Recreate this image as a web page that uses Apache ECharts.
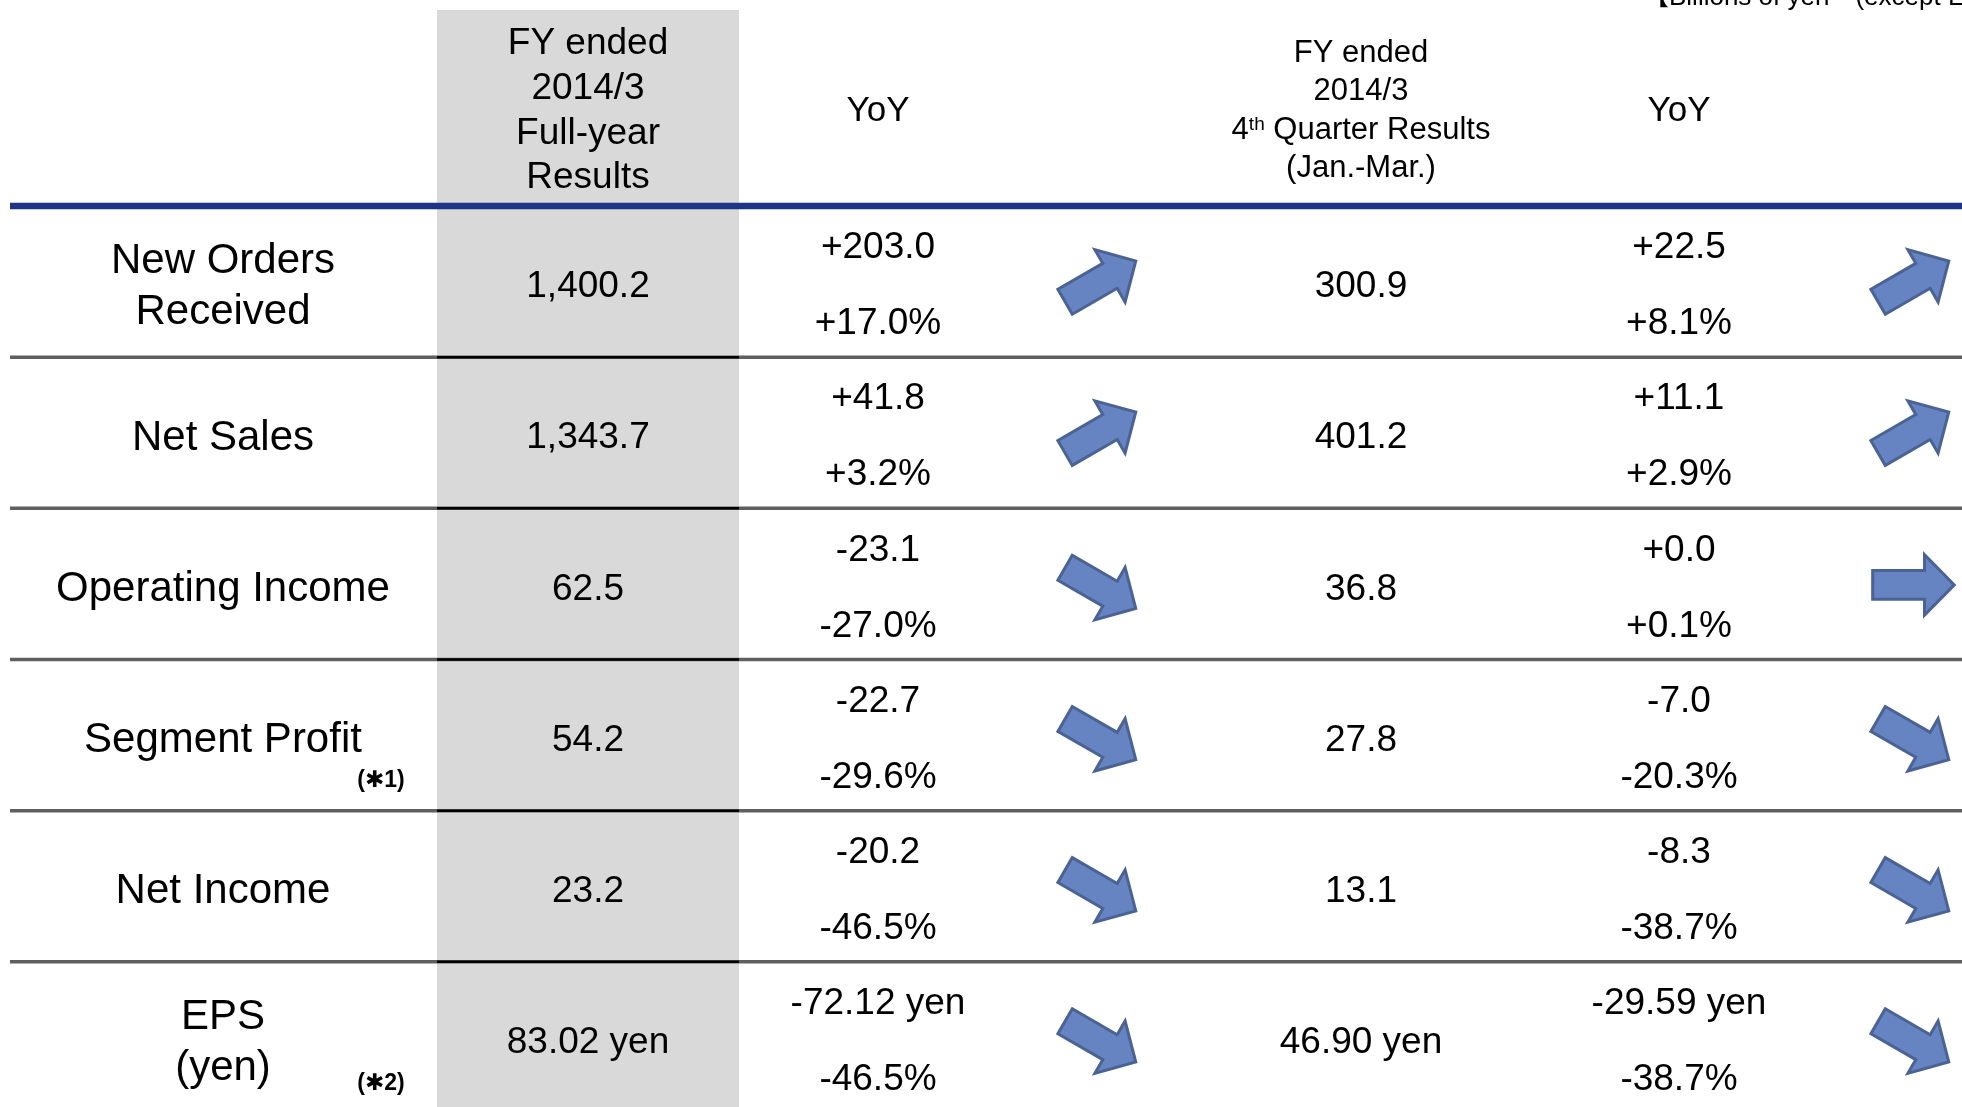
<!DOCTYPE html>
<html>
<head>
<meta charset="utf-8">
<script src="https://cdn.jsdelivr.net/npm/echarts@6/dist/echarts.min.js"></script>
<style>
html,body{margin:0;padding:0;background:#ffffff;}
#chart{width:1962px;height:1107px;}
</style>
</head>
<body>
<div id="chart"></div>
<script>
// ---------------- DATA ----------------
const rowLabels = ['New Orders\nReceived', 'Net Sales', 'Operating Income', 'Segment Profit', 'Net Income', 'EPS\n(yen)'];
const rowNotes = ['', '', '', '(✱1)', '', '(✱2)'];
const rowUnits = ['', '', '', '', '', ' yen'];
const rowDecimals = [1, 1, 1, 1, 1, 2];
const fyResults = [1400.2, 1343.7, 62.5, 54.2, 23.2, 83.02];
const fyYoyChange = [203.0, 41.8, -23.1, -22.7, -20.2, -72.12];
const fyYoyPercent = [17.0, 3.2, -27.0, -29.6, -46.5, -46.5];
const q4Results = [300.9, 401.2, 36.8, 27.8, 13.1, 46.90];
const q4YoyChange = [22.5, 11.1, 0.0, -7.0, -8.3, -29.59];
const q4YoyPercent = [8.1, 2.9, 0.1, -20.3, -38.7, -38.7];
const headerFy = 'FY ended\n2014/3\nFull-year\nResults';
const headerYoy = 'YoY';
const unitNote = '【Billions of yen　(except EPS)】';

// ---------------- LAYOUT / STYLE ----------------
const FONT = '"Liberation Sans", Arial, "DejaVu Sans", "Noto Sans CJK JP", sans-serif';
const L = {
  lineL: 10, lineR: 1962, shadeL: 437, shadeR: 739,
  colLabel: 223, colNote: 381, colFy: 588, colYoy: 878, colArrow1: 1100,
  colQ4: 1361, colYoy2: 1679, colArrow2: 1913
};
const ARROW_SCALE = 0.96;
const ARROW_SHAPE = [[-42, -15], [12, -15], [12, -31.5], [43, 0], [12, 31.5], [12, 15], [-42, 15]];

function fmt(v, d) {
  return Math.abs(v).toLocaleString('en-US', {minimumFractionDigits: d, maximumFractionDigits: d});
}
function plain(v, d, unit) { return (v < 0 ? '-' : '') + fmt(v, d) + unit; }
function signed(v, d, unit) { return (v < 0 ? '-' : '+') + fmt(v, d) + unit; }
function trend(v) { return v > 0 ? 1 : (v < 0 ? -1 : 0); }

function txt(text, x, y, size, extra) {
  return {
    type: 'text', x: x, y: y,
    style: Object.assign({
      text: text, fill: '#000000', fontSize: size, fontFamily: FONT,
      align: 'center', verticalAlign: 'middle'
    }, extra || {})
  };
}
function hline(x1, x2, y, color, w) {
  return {type: 'line', shape: {x1: x1, y1: y, x2: x2, y2: y}, style: {stroke: color, lineWidth: w}};
}
function arrow(cx, cy, dir) {
  const th = dir * Math.PI / 6;
  const u = [Math.cos(th), -Math.sin(th)], v = [Math.sin(th), Math.cos(th)];
  const s = ARROW_SCALE;
  const pts = ARROW_SHAPE.map(p => [cx + s * (p[0] * u[0] + p[1] * v[0]), cy + s * (p[0] * u[1] + p[1] * v[1])]);
  return {type: 'polygon', shape: {points: pts},
    style: {fill: '#6584c1', stroke: '#4a6394', lineWidth: 3, lineJoin: 'miter'}};
}
function arrowY(yc, dir) { return dir > 0 ? yc : (dir < 0 ? yc + 4 : yc + 1); }

function renderRow(params, api) {
  const i = api.value(1);
  const yc = api.coord([0, i])[1];
  const h = api.size([0, 1])[1];
  const X = v => api.coord([v, i])[0];
  const top = yc - h / 2;
  const d = rowDecimals[i], unit = rowUnits[i];
  const ch = [];
  ch.push({type: 'rect', shape: {x: X(L.shadeL), y: top, width: X(L.shadeR) - X(L.shadeL), height: h},
    style: {fill: '#d9d9d9'}});
  if (i === 0) {
    ch.push(hline(X(L.lineL), X(L.lineR), top, '#1f3485', 6.5));
  } else {
    ch.push(hline(X(L.lineL), X(L.lineR), top, '#5f5f5f', 3.5));
    ch.push(hline(X(L.shadeL), X(L.shadeR), top, '#000000', 2.5));
  }
  ch.push(txt(rowLabels[i], X(L.colLabel), yc + 5.5, 42, {lineHeight: 51}));
  if (rowNotes[i]) ch.push(txt(rowNotes[i], X(L.colNote), yc + 46, 23, {fontWeight: 'bold'}));
  ch.push(txt(plain(fyResults[i], d, unit), X(L.colFy), yc + 5.5, 37));
  ch.push(txt(signed(fyYoyChange[i], d, unit), X(L.colYoy), yc - 33.5, 37));
  ch.push(txt(signed(fyYoyPercent[i], 1, '%'), X(L.colYoy), yc + 42.5, 37));
  const t1 = trend(fyYoyChange[i]);
  ch.push(arrow(X(L.colArrow1), arrowY(yc, t1), t1));
  ch.push(txt(plain(q4Results[i], d, unit), X(L.colQ4), yc + 5.5, 37));
  ch.push(txt(signed(q4YoyChange[i], d, unit), X(L.colYoy2), yc - 33.5, 37));
  ch.push(txt(signed(q4YoyPercent[i], 1, '%'), X(L.colYoy2), yc + 42.5, 37));
  const t2 = trend(q4YoyChange[i]);
  ch.push(arrow(X(L.colArrow2), arrowY(yc, t2), t2));
  return {type: 'group', children: ch};
}

const chart = echarts.init(document.getElementById('chart'), null, {renderer: 'canvas'});
chart.setOption({
  backgroundColor: '#ffffff',
  animation: false,
  grid: {left: 0, right: 0, top: 206, height: 907, containLabel: false, outerBoundsMode: 'none'},
  xAxis: {type: 'value', min: 0, max: 1962, show: false},
  yAxis: {type: 'category', data: rowLabels, inverse: true, show: false},
  graphic: [
    {type: 'rect', shape: {x: L.shadeL, y: 10, width: L.shadeR - L.shadeL, height: 196},
      style: {fill: '#d9d9d9'}, silent: true},
    {type: 'text', x: L.colFy, y: 111, silent: true,
      style: {text: headerFy, fontSize: 37, fontFamily: FONT, lineHeight: 44.7, fill: '#000',
        align: 'center', verticalAlign: 'middle'}},
    {type: 'text', x: L.colYoy, y: 111, silent: true,
      style: {text: headerYoy, fontSize: 35, fontFamily: FONT, fill: '#000', align: 'center', verticalAlign: 'middle'}},
    {type: 'text', x: L.colYoy2, y: 111, silent: true,
      style: {text: headerYoy, fontSize: 35, fontFamily: FONT, fill: '#000', align: 'center', verticalAlign: 'middle'}},
    {type: 'text', x: L.colQ4, y: 111, silent: true,
      style: {
        text: '{a|FY ended}\n{a|2014/3}\n{a|4}{s|th}{a| Quarter Results}\n{a|(Jan.-Mar.)}',
        align: 'center', verticalAlign: 'middle', fill: '#000',
        rich: {
          a: {fontSize: 31, fontFamily: FONT, lineHeight: 38.5, fill: '#000'},
          s: {fontSize: 19, fontFamily: FONT, lineHeight: 38.5, fill: '#000', verticalAlign: 'top', padding: [4, 0, 0, 0]}
        }
      }},
    {type: 'text', x: 1643, y: -2, silent: true,
      style: {text: unitNote, fontSize: 26, fontFamily: FONT, fill: '#000', align: 'left', verticalAlign: 'middle'}}
  ],
  series: [{
    type: 'custom',
    coordinateSystem: 'cartesian2d',
    renderItem: renderRow,
    encode: {x: 0, y: 1},
    data: rowLabels.map((_, i) => [0, i]),
    silent: true
  }]
});
</script>
</body>
</html>
